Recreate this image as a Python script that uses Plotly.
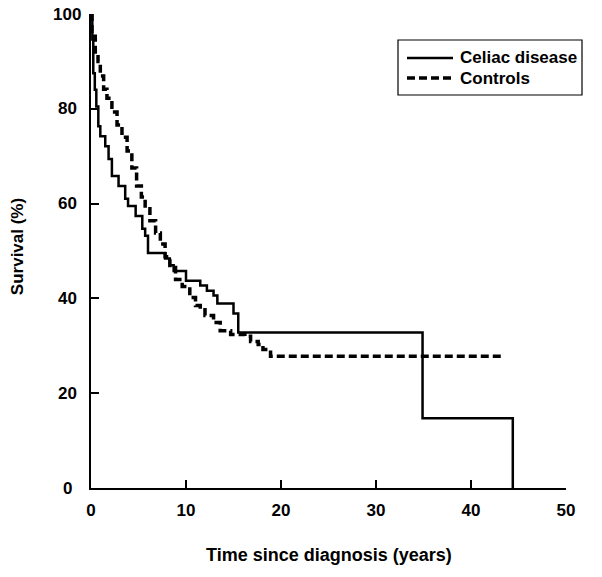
import plotly.graph_objects as go

# Kaplan-Meier curves (time in years, survival in %)
celiac_time = [0, 0.14, 0.24, 0.4, 0.56, 0.77, 0.98, 1.5, 1.85, 2.2, 2.9, 3.6, 3.9, 4.7, 5.4, 5.7,
               6.0, 7.8, 8.3, 8.7, 10.0, 11.5, 12.2, 12.9, 13.3, 15.0, 15.5, 34.9, 44.4]
celiac_surv = [100, 94.6, 87.5, 84.0, 80.5, 76.3, 74.2, 72.1, 69.4, 65.8, 63.7, 61.0, 59.5, 57.4, 54.7, 53.2,
               49.6, 48.4, 47.0, 45.8, 43.7, 42.7, 41.6, 40.6, 38.9, 36.8, 32.8, 14.7, 0]

control_time = [0, 0.1, 0.45, 0.74, 0.98, 1.33, 1.68, 2.2, 2.74, 3.26, 3.8, 4.3, 4.8, 5.3, 5.7, 6.2,
                6.8, 7.3, 7.8, 8.3, 8.9, 9.6, 10.4, 11.0, 11.5, 12.0, 12.9, 13.6, 14.7, 16.2, 16.8,
                17.6, 18.1, 18.9, 43.3]
control_surv = [100, 95.3, 91.5, 90.0, 86.9, 84.1, 82.2, 79.3, 76.6, 74.0, 71.1, 67.5, 63.7, 61.4, 58.9, 56.4,
                53.8, 51.5, 48.8, 46.5, 44.0, 42.5, 40.2, 38.5, 37.6, 36.4, 34.9, 33.2, 32.4, 32.0, 30.9,
                30.3, 29.2, 27.8, 27.8]

series_names = ["Celiac disease", "Controls"]
x_ticks = [0, 10, 20, 30, 40, 50]
y_ticks = [0, 20, 40, 60, 80, 100]

FONT = "Liberation Sans, Arial, sans-serif"
BOLD = lambda s: dict(family=FONT, size=s, color="black", weight="bold")

fig = go.Figure()
fig.add_trace(go.Scatter(x=celiac_time, y=celiac_surv, mode="lines", name=series_names[0],
                         line=dict(color="black", width=2.5, shape="hv")))
fig.add_trace(go.Scatter(x=control_time, y=control_surv, mode="lines", name=series_names[1],
                         line=dict(color="black", width=3.5, shape="hv", dash="8px,4px")))

axis_common = dict(showline=True, linecolor="black", linewidth=2, ticks="inside", ticklen=8,
                   tickwidth=2, tickcolor="black", showgrid=False, zeroline=False, automargin=False)
fig.update_xaxes(range=[0, 50], tickvals=x_ticks, ticktext=[str(v) for v in x_ticks],
                 ticklabelstandoff=6, tickfont=BOLD(17), **axis_common)
fig.update_yaxes(range=[0, 100], tickvals=y_ticks, showticklabels=False, **axis_common)

# y tick labels (centred, as in the reference)
for v in y_ticks:
    fig.add_annotation(text=str(v), xref="paper", yref="y", x=-0.0505, y=v, showarrow=False,
                       font=BOLD(17), xanchor="center", yanchor="middle")

fig.add_annotation(text="Time since diagnosis (years)", xref="paper", yref="paper", x=0.5, y=-0.141,
                   showarrow=False, font=BOLD(18), xanchor="center", yanchor="middle")
fig.add_annotation(text="Survival (%)", xref="paper", yref="paper", x=-0.156, y=0.51,
                   showarrow=False, textangle=-90, font=BOLD(17),
                   xanchor="center", yanchor="middle")

PL, PT, W, H = 91, 14, 475, 474  # plot area in page pixels
px = lambda p: (p - PL) / W
py = lambda p: 1 - (p - PT) / H

# legend box drawn to match the reference
L0, R0, T0, B0 = 398, 582, 40, 95
fig.add_shape(type="rect", xref="paper", yref="paper", x0=px(L0), x1=px(R0), y0=py(B0), y1=py(T0),
              line=dict(color="black", width=1.2), fillcolor="white", layer="above")
for i, (name, dash, wd) in enumerate(zip(series_names, ["solid", "8px,4px"], [2.5, 3.5])):
    yc = 58 + 20 * i
    fig.add_shape(type="line", xref="paper", yref="paper", x0=px(407), x1=px(453), y0=py(yc), y1=py(yc),
                  line=dict(color="black", width=wd, dash=dash), layer="above")
    fig.add_annotation(text=name, xref="paper", yref="paper", x=px(458), y=py(yc), showarrow=False,
                       font=BOLD(17), xanchor="left", yanchor="middle")

FW, FH = 602, 577
fig.update_layout(
    width=FW, height=FH,
    margin=dict(l=PL, r=FW - PL - W, t=PT, b=FH - PT - H, pad=0),
    paper_bgcolor="white", plot_bgcolor="white",
    showlegend=False,
)

fig.write_html("out.html", config={"displayModeBar": False},
               post_script="document.body.style.margin='0';document.body.style.overflow='hidden';")
